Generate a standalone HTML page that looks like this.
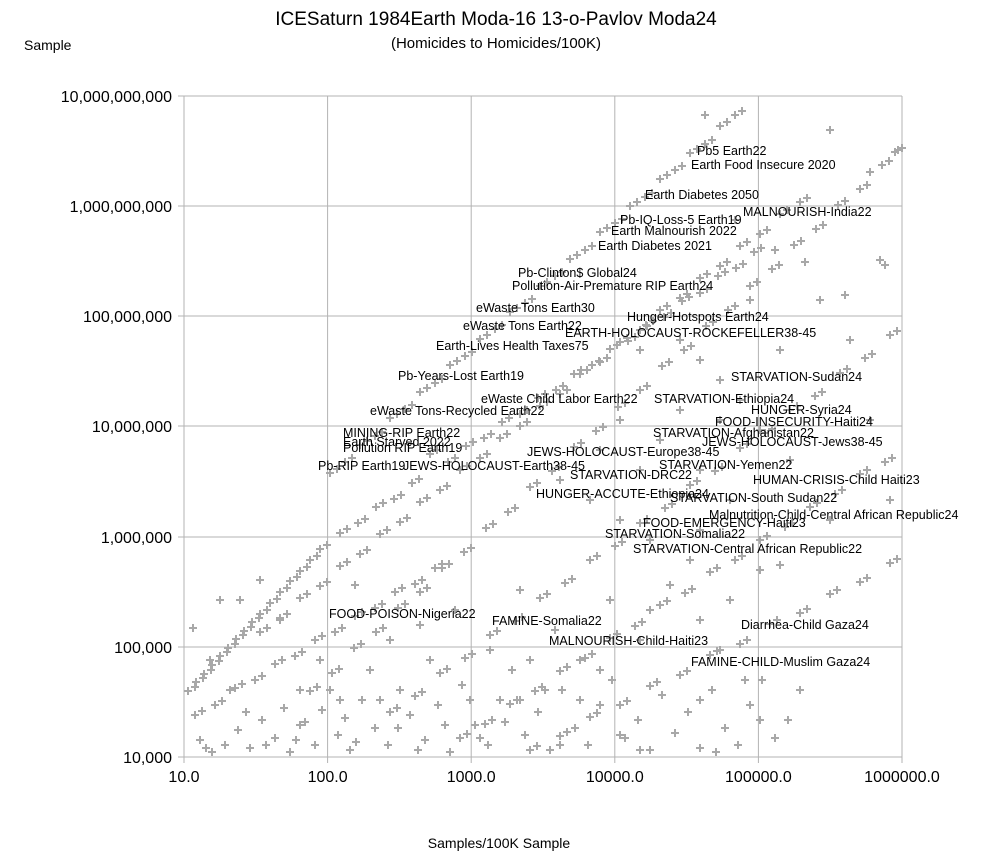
<!DOCTYPE html>
<html><head><meta charset="utf-8"><style>
html,body{margin:0;padding:0;background:#fff;}
svg{display:block;font-family:"Liberation Sans",sans-serif;}
.s{fill:none;stroke:none;marker-start:url(#m);marker-mid:url(#m);marker-end:url(#m);}
</style></head><body>
<svg width="993" height="860" xmlns="http://www.w3.org/2000/svg">
<defs><marker id="m" markerUnits="userSpaceOnUse" markerWidth="10" markerHeight="10" refX="5" refY="5" overflow="visible"><path d="M1 5h8M5 1v8" stroke="#a8a8a8" stroke-width="2" fill="none"/></marker></defs>
<rect width="993" height="860" fill="#fff"/>
<g stroke="#b3b3b3" stroke-width="1">
<line x1="184" y1="96" x2="902" y2="96"/><line x1="184" y1="206" x2="902" y2="206"/>
<line x1="184" y1="316" x2="902" y2="316"/><line x1="184" y1="426" x2="902" y2="426"/>
<line x1="184" y1="537" x2="902" y2="537"/><line x1="184" y1="647" x2="902" y2="647"/>
<line x1="184" y1="757" x2="902" y2="757"/>
<line x1="184" y1="96" x2="184" y2="757"/><line x1="327.6" y1="96" x2="327.6" y2="757"/>
<line x1="471.2" y1="96" x2="471.2" y2="757"/><line x1="614.8" y1="96" x2="614.8" y2="757"/>
<line x1="758.4" y1="96" x2="758.4" y2="757"/><line x1="902" y1="96" x2="902" y2="757"/>
<line x1="178" y1="96" x2="184" y2="96"/><line x1="178" y1="206" x2="184" y2="206"/><line x1="178" y1="316" x2="184" y2="316"/><line x1="178" y1="426" x2="184" y2="426"/><line x1="178" y1="537" x2="184" y2="537"/><line x1="178" y1="647" x2="184" y2="647"/><line x1="178" y1="757" x2="184" y2="757"/>
<line x1="184" y1="757" x2="184" y2="763"/><line x1="327.6" y1="757" x2="327.6" y2="763"/><line x1="471.2" y1="757" x2="471.2" y2="763"/><line x1="614.8" y1="757" x2="614.8" y2="763"/><line x1="758.4" y1="757" x2="758.4" y2="763"/><line x1="902" y1="757" x2="902" y2="763"/>
</g>
<g id="lines">
<path class="s" d="M330 473L345 462L360 445L375 436L390 418L405 409L420 392L435 383L450 365L465 356L480 339L495 329L510 312L525 303L540 286L555 276L570 259L585 250L600 232L615 223L630 206L645 197L660 179L675 170L690 153L705 144L720 126L735 115"/>
<path class="s" d="M188 691L196 682L204 674L212 665L220 656L228 648L236 639L244 631L252 622L260 614L270 603L280 592L290 581L300 571L310 560L320 549"/>
<path class="s" d="M340 533L358 523L376 507L394 499L412 483L430 454L448 462L466 446L484 438L502 422L520 414L538 398L556 390L574 374L592 365L610 349L628 341L646 325L664 317L682 301L700 293L718 276L736 268L754 252"/>
<path class="s" d="M260 632L280 618L300 598L320 586L340 566L360 554L380 534L400 522L420 502L440 490L460 470L480 458L500 438L520 426L540 406L560 394L580 374L600 362L620 342L640 330L660 310L680 298L700 278L720 266L740 246L760 234L780 214L800 202"/>
<path class="s" d="M310 691L332 673L354 648L376 632L398 608L420 592L442 568L464 552L486 528L508 512L530 487L552 471L574 447L596 431L618 407L640 390L662 366L684 350L706 326L728 310L750 286L772 269L794 245L816 229L838 205L860 189L882 165L895 152"/>
<path class="s" d="M390 712L415 696L440 673L465 658L490 635L515 621L540 598L565 583L590 560L615 546L640 523L665 508L690 485L715 471L740 448L765 433L790 410L815 396L840 373L865 358L890 335"/>
<path class="s" d="M460 738L485 724L510 704L535 691L560 671L585 658L610 638L635 626L660 605L685 593L710 572L735 560L760 540L785 527L810 507L835 494L860 474L885 462"/>
<path class="s" d="M530 750L560 736L590 717L620 705L650 686L680 675L710 655L740 644L770 624L800 613L830 594L860 582L890 563"/>
<path class="s" d="M195 715L215 705L235 688L255 680L275 664L295 656L315 640L335 632L355 616L375 608L395 592L415 584L435 568"/>
</g>
<use href="#lines" transform="translate(7,-4)"/>
<path class="s" d="M200 740L212 752L225 745L238 730L250 748L262 720L275 738L290 752L300 725L315 745L322 710L338 735L350 750L362 700L375 728L388 745L400 690L410 715L425 740L438 705L450 752L462 685L475 725L488 745L500 700L512 670L525 735L538 712L550 750L562 690L575 728L588 745L600 705L612 680L625 738L638 720L650 750L662 695L675 733L688 712L700 748L712 690L725 728L738 745L750 705L762 680L775 738L788 720L240 600L280 620L320 660L355 585L390 640L420 625L455 610L490 650L520 590L555 630L580 660L610 600L640 640L670 585L700 620L730 600L760 570L210 660L230 690L260 580L300 690L340 700L370 670L430 660L470 700L530 660L600 670L650 610L690 560L720 650L760 720L800 690L220 600L193 628L266 745L284 708L305 722L345 718L398 728L445 725L505 722L545 690L620 735L700 700L745 680L206 748L246 712L296 740L356 742L418 750L480 738L560 745L640 750L716 752L330 690L380 700L520 700L580 700"/>
<path class="s" d="M640 350L680 340L700 360L720 380L750 300L780 350L820 300L850 340L880 260L830 130L870 172L885 265L805 262L740 400L760 430L790 460L620 420L660 440L700 470L730 500L560 480L590 500L620 520L650 540L700 530L780 565L830 520L870 420L890 500L600 450L898 150L705 115L735 220L775 250L845 295L720 420L680 410L640 470"/>
<g font-size="16" fill="#000" text-anchor="end">
<text x="172" y="102">10,000,000,000</text><text x="172" y="212">1,000,000,000</text>
<text x="172" y="322">100,000,000</text><text x="172" y="432">10,000,000</text>
<text x="172" y="543">1,000,000</text><text x="172" y="653">100,000</text><text x="172" y="763">10,000</text>
</g>
<g font-size="16" fill="#000" text-anchor="middle">
<text x="184" y="782">10.0</text><text x="327.6" y="782">100.0</text><text x="471.2" y="782">1000.0</text>
<text x="614.8" y="782">10000.0</text><text x="758.4" y="782">100000.0</text><text x="902" y="782">1000000.0</text>
</g>
<text x="496" y="25" font-size="19" text-anchor="middle">ICESaturn 1984Earth Moda-16 13-o-Pavlov Moda24</text>
<text x="496" y="48" font-size="15" text-anchor="middle">(Homicides to Homicides/100K)</text>
<text x="24" y="50" font-size="14">Sample</text>
<text x="499" y="848" font-size="14" text-anchor="middle">Samples/100K Sample</text>
<g font-size="12.5" fill="#000">
<text x="697" y="155">Pb5 Earth22</text><text x="691" y="169">Earth Food Insecure 2020</text>
<text x="645" y="199">Earth Diabetes 2050</text><text x="743" y="216">MALNOURISH-India22</text>
<text x="620" y="224">Pb-IQ-Loss-5 Earth19</text><text x="611" y="235">Earth Malnourish 2022</text>
<text x="598" y="250">Earth Diabetes 2021</text><text x="518" y="277">Pb-Clinton$ Global24</text>
<text x="512" y="290">Pollution-Air-Premature RIP Earth24</text><text x="476" y="312">eWaste Tons Earth30</text>
<text x="627" y="321">Hunger-Hotspots Earth24</text><text x="463" y="330">eWaste Tons Earth22</text>
<text x="565" y="337">EARTH-HOLOCAUST-ROCKEFELLER38-45</text><text x="436" y="350">Earth-Lives Health Taxes75</text>
<text x="398" y="380">Pb-Years-Lost Earth19</text><text x="731" y="381">STARVATION-Sudan24</text>
<text x="481" y="403">eWaste Child Labor Earth22</text><text x="654" y="403">STARVATION-Ethiopia24</text>
<text x="370" y="415">eWaste Tons-Recycled Earth22</text><text x="751" y="414">HUNGER-Syria24</text>
<text x="715" y="426">FOOD-INSECURITY-Haiti24</text><text x="343" y="437">MINING-RIP Earth22</text>
<text x="653" y="437">STARVATION-Afghanistan22</text><text x="343" y="446">Earth Starved 2022</text>
<text x="702" y="446">JEWS-HOLOCAUST-Jews38-45</text><text x="343" y="452">Pollution RIP Earth19</text>
<text x="527" y="456">JEWS-HOLOCAUST-Europe38-45</text><text x="318" y="470">Pb-RIP Earth19</text>
<text x="403" y="470">JEWS-HOLOCAUST-Earth38-45</text><text x="659" y="469">STARVATION-Yemen22</text>
<text x="570" y="479">STARVATION-DRC22</text><text x="753" y="484">HUMAN-CRISIS-Child Haiti23</text>
<text x="536" y="498">HUNGER-ACCUTE-Ethiopia24</text><text x="670" y="502">STARVATION-South Sudan22</text>
<text x="709" y="519">Malnutrition-Child-Central African Republic24</text><text x="643" y="527">FOOD-EMERGENCY-Haiti23</text>
<text x="605" y="538">STARVATION-Somalia22</text><text x="633" y="553">STARVATION-Central African Republic22</text>
<text x="329" y="618">FOOD-POISON-Nigeria22</text><text x="492" y="625">FAMINE-Somalia22</text>
<text x="741" y="629">Diarrhea-Child Gaza24</text><text x="549" y="645">MALNOURISH-Child-Haiti23</text>
<text x="691" y="666">FAMINE-CHILD-Muslim Gaza24</text>
</g>
</svg>
</body></html>
